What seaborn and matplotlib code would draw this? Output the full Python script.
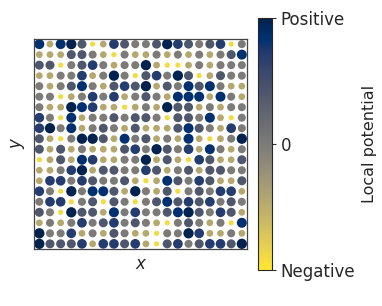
import numpy as np
import pandas as pd
import matplotlib
matplotlib.use("Agg")
import matplotlib.pyplot as plt
import seaborn as sns

# Level of each dot: D darkest positive ... Y most negative
levels = {"D": 1.0, "N": 0.85, "B": 0.7, "S": 0.4, "G": 0.0, "K": -0.45, "Y": -0.9}

rows = [
    "N K N D S Y K B S G G S D B S G S B Y G",
    "K K K S S G K Y G K K G K G K G K G S N",
    "S S Y G S B G K G G D K Y Y K G K G G G",
    "K K G G B K G D G Y S B G D S Y K S G G",
    "G K G S N G K S B S D K S G N S N G K K",
    "G G Y K G B G B K G S G K N N N K N G K",
    "G K K D N B K K Y K G K D S S K G K G G",
    "B G Y N K G G S G S S G Y S S G N K Y G",
    "B D G N K G S G K S K K K S N S G K B G",
    "S K Y G D D S K N G S K G K N K Y K G D",
    "S K S K G K K K S B G D S G B K N G K G",
    "Y K S K N B K K G G D K S K Y B S K K S",
    "K K G B D K S S G G B S K G S K S S G G",
    "K B B G B S G G S K Y K N S G B S K K S",
    "B G Y D G N N S K D G K S Y G S G B B K",
    "G B B Y G S Y S G Y G S N S B S B G S G",
    "S G Y D S S K N G B G G S N D S G B S K",
    "K G K G B G S B G S G K Y G S G K G Y N",
    "D G G B K G K S G K K Y G G D B K K G K",
    "D S S S B K B B S B K Y S B G S B B S D",
]

cbar_ticks = [-1, 0, 1]
cbar_labels = ["Negative", "0", "Positive"]

records = []
for r, row in enumerate(rows):
    for c, ch in enumerate(row.split()):
        records.append((c, r, levels[ch]))
df = pd.DataFrame(records, columns=["x", "y", "v"])

sns.set_theme(style="white")
plt.rcParams["font.family"] = ["DejaVu Sans"]

fig = plt.figure(figsize=(3.82, 3.06), dpi=100)
ax = fig.add_axes([0.089, 0.186, 0.558, 0.687])
sns.scatterplot(data=df, x="x", y="y", hue="v", size="v",
                palette="cividis_r", hue_norm=(-1, 1),
                sizes=(12, 55), size_norm=(-1, 1),
                linewidth=0, legend=False, ax=ax)
ax.set_xlim(-0.5, 19.5)
ax.set_ylim(19.5, -0.5)
ax.set_xticks([])
ax.set_yticks([])
ax.set_xlabel("x", style="italic", fontsize=12, labelpad=4)
ax.set_ylabel("y", style="italic", fontsize=12, labelpad=6)
for s in ax.spines.values():
    s.set_color("#444444")
    s.set_linewidth(0.9)

cax = fig.add_axes([0.675, 0.118, 0.036, 0.824])
sm = plt.cm.ScalarMappable(cmap="cividis_r", norm=plt.Normalize(-1, 1))
cb = fig.colorbar(sm, cax=cax, ticks=cbar_ticks)
cb.ax.set_yticklabels(cbar_labels, fontsize=12)
cb.ax.tick_params(length=3, width=0.8, color="#333333")
cb.outline.set_linewidth(0.8)
cb.set_label("Local potential", fontsize=11.5, labelpad=5)

fig.savefig("out.png", dpi=100)
